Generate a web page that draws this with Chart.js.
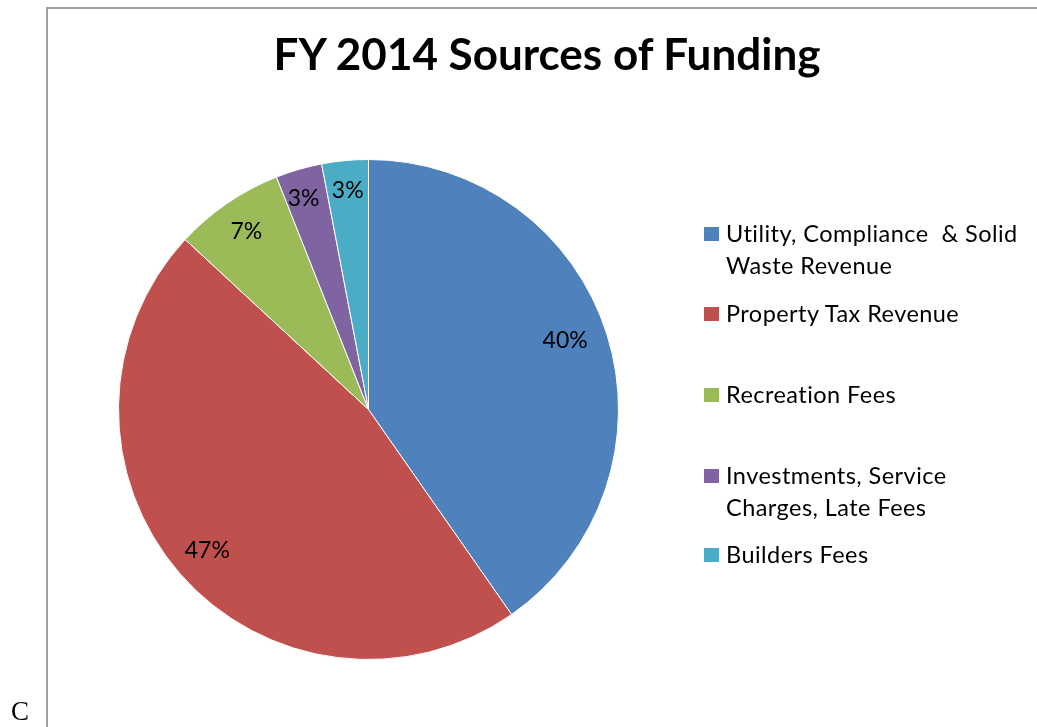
<!DOCTYPE html>
<html>
<head>
<meta charset="utf-8">
<script src="https://cdn.jsdelivr.net/npm/chart.js@4.4.0/dist/chart.umd.min.js"></script>
<style>
  html, body { margin: 0; padding: 0; background: #fff; width: 1037px; height: 727px; overflow: hidden; }
  #frame { position: absolute; left: 46px; top: 7px; width: 1100px; height: 800px; border-left: 2px solid #a0a0a0; border-top: 2px solid #a0a0a0; }
  #wrap { position: absolute; left: 0; top: 0; width: 1037px; height: 727px; }
  #title { position: absolute; left: 0; top: 27px; width: 1094px; text-align: center; font: bold 44px Lato, "Open Sans", sans-serif; color: #000; white-space: nowrap; }
  #legend { position: absolute; left: 704px; top: 0; font: 23.5px Lato, "Open Sans", sans-serif; letter-spacing: 0.45px; color: #000; }
  .item { position: absolute; left: 0; white-space: nowrap; }
  .sw { position: absolute; left: 0; width: 15px; height: 14px; }
  .txt { position: absolute; left: 22px; line-height: 32px; }
  #c { position: absolute; left: 11px; top: 696px; font: 27px "Liberation Serif", serif; color: #000; }
</style>
</head>
<body>
<div id="frame"></div>
<div id="wrap"><canvas id="chart" width="1037" height="727"></canvas></div>
<div id="title"></div>
<div id="legend"></div>
<div id="c">C</div>
<script>
const chartTitle = "FY 2014 Sources of Funding";
const categories = [
  ["Utility, Compliance  & Solid", "Waste Revenue"],
  ["Property Tax Revenue"],
  ["Recreation Fees"],
  ["Investments, Service", "Charges, Late Fees"],
  ["Builders Fees"]
];
const values = [40.3, 46.6, 7.1, 3.0, 3.0];
const percentLabels = ["40%", "47%", "7%", "3%", "3%"];
const colors = ["#4F81BD", "#C0504D", "#9BBB59", "#8064A2", "#4BACC6"];
const legendRowTops = [217, 297, 378, 459, 538];

document.getElementById('title').textContent = chartTitle;

const legend = document.getElementById('legend');
categories.forEach((lines, i) => {
  const it = document.createElement('div');
  it.className = 'item';
  it.style.top = legendRowTops[i] + 'px';
  const sw = document.createElement('div');
  sw.className = 'sw';
  sw.style.background = colors[i];
  sw.style.top = '10px';
  const tx = document.createElement('div');
  tx.className = 'txt';
  tx.innerHTML = lines.map(l => l.replace(/ /g, '&nbsp;')).join('<br>');
  it.appendChild(sw); it.appendChild(tx);
  legend.appendChild(it);
});

const labelPlugin = {
  id: 'sliceLabels',
  afterDatasetsDraw(chart) {
    const ctx = chart.ctx;
    const meta = chart.getDatasetMeta(0);
    ctx.save();
    ctx.font = '23px Lato, "Open Sans", sans-serif';
    ctx.fillStyle = '#000';
    ctx.textAlign = 'center';
    ctx.textBaseline = 'middle';
    const factors = [0.835, 0.855, 0.865, 0.885, 0.885];
    const weights = [0.485, 0.5, 0.5, 0.42, 0.5];
    meta.data.forEach((arc, i) => {
      const p = arc.getProps(['x', 'y', 'startAngle', 'endAngle', 'outerRadius'], true);
      const mid = p.startAngle + (p.endAngle - p.startAngle) * weights[i];
      const r = p.outerRadius * factors[i];
      ctx.fillText(percentLabels[i], p.x + Math.cos(mid) * r, p.y + Math.sin(mid) * r + 1);
    });
    ctx.restore();
  }
};

new Chart(document.getElementById('chart'), {
  type: 'pie',
  data: {
    labels: categories.map(l => l.join(' ')),
    datasets: [{
      data: values,
      backgroundColor: colors,
      borderColor: '#ffffff',
      borderWidth: 1
    }]
  },
  options: {
    responsive: false,
    animation: false,
    rotation: 0,
    layout: { padding: { left: 118, right: 418, top: 159, bottom: 67 } },
    plugins: {
      legend: { display: false },
      tooltip: { enabled: false },
      title: { display: false }
    }
  },
  plugins: [labelPlugin]
});
</script>
</body>
</html>
